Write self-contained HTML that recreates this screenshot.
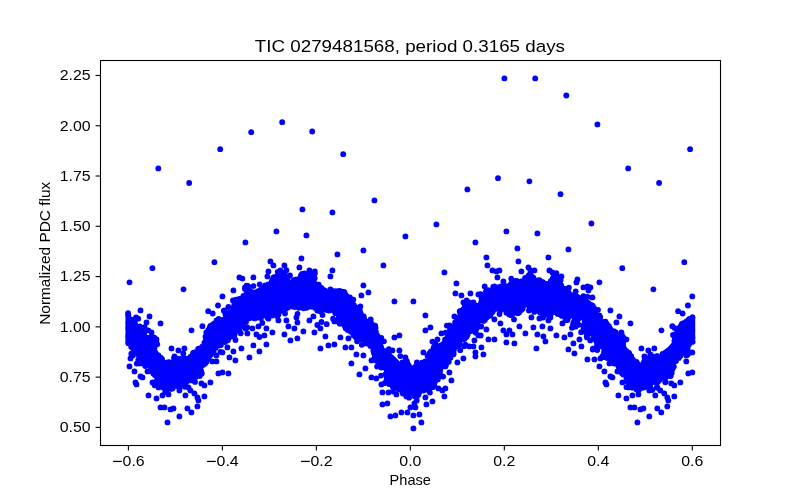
<!DOCTYPE html><html><head><meta charset="utf-8"><style>html,body{margin:0;padding:0;background:#fff;}svg{display:block;}text{font-family:"Liberation Sans",sans-serif;fill:#000;}.t{filter:grayscale(1);}</style></head><body>
<svg width="800" height="500" viewBox="0 0 800 500">
<rect x="0" y="0" width="800" height="500" fill="#fff"/>
<g fill="#0000ff">
<path d="M125.5,313.7 L133.7,319.4 L139.7,325.4 L145.4,331.1 L148.6,338.8 L150.1,336.4 L154.3,344.8 L154.4,346.0 L158.9,352.6 L160.4,355.0 L163.3,359.9 L164.6,361.9 L171.5,362.5 L177.2,359.6 L176.6,357.9 L180.3,361.0 L184.0,356.7 L190.9,354.8 L194.3,351.5 L198.4,348.5 L203.3,342.9 L206.3,332.3 L210.6,325.2 L216.1,319.7 L223.6,316.6 L231.6,308.7 L237.6,298.2 L243.7,293.6 L245.2,286.1 L247.5,285.4 L253.8,290.0 L260.8,286.8 L268.7,283.6 L273.3,277.5 L278.9,274.8 L283.2,271.8 L289.0,280.2 L296.2,279.0 L303.0,278.7 L307.5,272.7 L311.3,272.6 L315.3,279.6 L320.2,286.0 L327.1,289.5 L334.8,289.5 L340.5,290.9 L344.1,291.9 L348.3,299.1 L351.7,304.0 L357.7,307.0 L361.8,312.6 L366.7,320.5 L372.9,322.2 L375.2,325.8 L376.6,331.5 L378.1,337.7 L382.9,349.2 L388.0,351.2 L393.7,355.5 L400.0,361.7 L407.9,363.4 L414.3,366.5 L423.2,364.6 L426.8,357.9 L432.5,346.3 L441.2,342.1 L447.7,334.0 L449.2,328.1 L456.7,320.6 L459.8,311.5 L465.3,304.5 L470.2,302.0 L477.7,303.1 L485.5,290.8 L492.4,286.8 L499.2,284.0 L505.2,285.5 L511.9,282.3 L517.7,279.4 L523.8,277.8 L530.3,273.5 L537.0,279.3 L547.4,282.5 L553.6,276.4 L560.7,277.5 L563.3,286.1 L570.0,291.2 L579.1,295.8 L581.3,297.1 L588.8,303.1 L593.0,305.8 L597.4,313.2 L603.6,319.4 L609.6,325.4 L615.3,331.1 L618.5,338.8 L620.0,336.4 L624.2,344.8 L624.3,346.0 L628.8,352.6 L630.3,355.0 L633.2,359.9 L634.5,361.9 L641.4,362.5 L647.1,359.6 L646.5,357.9 L650.2,361.0 L653.9,356.7 L660.8,354.8 L664.2,351.5 L668.3,348.5 L673.2,342.9 L676.2,332.3 L680.5,325.2 L686.0,319.7 L695.2,317.9 L695.2,343.7 L690.9,345.2 L688.5,347.6 L684.4,351.7 L679.2,358.9 L676.2,363.9 L672.1,370.2 L671.5,375.6 L664.0,378.2 L656.9,383.3 L649.2,387.1 L646.4,387.1 L640.5,390.1 L635.7,390.1 L630.3,386.0 L626.1,381.8 L623.2,376.0 L618.4,368.1 L610.8,363.5 L606.7,358.0 L602.3,348.6 L596.3,343.4 L596.9,351.2 L593.2,341.0 L591.9,342.0 L591.6,334.8 L584.2,331.9 L581.4,319.6 L576.8,326.9 L573.6,325.8 L572.2,317.9 L566.3,320.5 L562.8,316.2 L553.1,314.5 L544.5,315.1 L535.9,310.2 L527.1,306.5 L519.0,313.3 L511.2,316.0 L504.3,311.6 L500.0,311.5 L495.1,311.7 L489.6,316.6 L483.8,322.4 L481.1,322.6 L477.6,328.6 L468.7,334.5 L465.4,338.8 L462.3,342.4 L459.6,347.6 L456.4,348.3 L454.8,354.0 L451.9,355.8 L450.3,359.9 L444.3,367.4 L441.2,374.1 L438.3,379.5 L434.1,386.6 L428.7,389.2 L420.9,392.3 L415.5,398.1 L410.9,395.2 L404.8,392.2 L397.3,389.2 L391.7,386.4 L386.3,381.1 L384.9,372.3 L380.1,365.8 L374.3,358.7 L372.7,347.9 L365.1,344.3 L351.3,334.0 L345.3,328.0 L339.6,323.8 L336.7,316.5 L332.8,312.7 L325.1,311.1 L319.1,308.1 L312.3,307.5 L303.4,309.5 L296.3,308.5 L289.6,307.5 L277.1,312.2 L271.7,316.0 L265.3,314.1 L259.5,320.6 L250.2,317.7 L240.5,328.7 L234.7,334.5 L225.8,341.9 L222.8,343.4 L218.6,347.6 L214.5,351.7 L209.3,358.9 L206.3,363.9 L202.2,370.2 L201.6,375.6 L194.1,378.2 L187.0,383.3 L179.3,387.1 L176.5,387.1 L170.6,390.1 L165.8,390.1 L160.4,386.0 L156.2,381.8 L153.3,376.0 L148.5,368.1 L140.9,363.5 L136.8,358.0 L132.4,348.6 L130.1,345.1 L125.5,343.3 Z"/>
<circle cx="189.2" cy="183.0" r="2.9"/>
<circle cx="220.2" cy="149.2" r="2.9"/>
<circle cx="251.2" cy="132.2" r="2.9"/>
<circle cx="282.2" cy="122.2" r="2.9"/>
<circle cx="312.2" cy="131.5" r="2.9"/>
<circle cx="343.2" cy="154.2" r="2.9"/>
<circle cx="498.0" cy="178.2" r="2.9"/>
<circle cx="504.4" cy="78.4" r="2.9"/>
<circle cx="535.2" cy="78.4" r="2.9"/>
<circle cx="566.3" cy="95.5" r="2.9"/>
<circle cx="597.4" cy="124.4" r="2.9"/>
<circle cx="628.2" cy="168.4" r="2.9"/>
<circle cx="529.4" cy="181.3" r="2.9"/>
<circle cx="560.5" cy="194.2" r="2.9"/>
<circle cx="245.4" cy="242.4" r="2.9"/>
<circle cx="214.4" cy="262.2" r="2.9"/>
<circle cx="239.4" cy="277.4" r="2.9"/>
<circle cx="242.4" cy="278.6" r="2.9"/>
<circle cx="253.4" cy="277.4" r="2.9"/>
<circle cx="374.4" cy="200.4" r="2.9"/>
<circle cx="302.4" cy="209.4" r="2.9"/>
<circle cx="332.4" cy="212.4" r="2.9"/>
<circle cx="276.4" cy="231.4" r="2.9"/>
<circle cx="306.4" cy="235.4" r="2.9"/>
<circle cx="405.4" cy="236.4" r="2.9"/>
<circle cx="363.4" cy="250.4" r="2.9"/>
<circle cx="337.4" cy="254.4" r="2.9"/>
<circle cx="301.4" cy="258.4" r="2.9"/>
<circle cx="383.4" cy="265.4" r="2.9"/>
<circle cx="270.4" cy="261.4" r="2.9"/>
<circle cx="273.4" cy="265.4" r="2.9"/>
<circle cx="284.4" cy="265.4" r="2.9"/>
<circle cx="299.4" cy="267.4" r="2.9"/>
<circle cx="268.4" cy="271.4" r="2.9"/>
<circle cx="332.4" cy="270.4" r="2.9"/>
<circle cx="330.4" cy="276.4" r="2.9"/>
<circle cx="280.4" cy="270.4" r="2.9"/>
<circle cx="309.4" cy="270.4" r="2.9"/>
<circle cx="304.4" cy="273.4" r="2.9"/>
<circle cx="311.4" cy="273.4" r="2.9"/>
<circle cx="267.4" cy="276.4" r="2.9"/>
<circle cx="467.4" cy="189.4" r="2.9"/>
<circle cx="436.4" cy="224.4" r="2.9"/>
<circle cx="506.4" cy="231.4" r="2.9"/>
<circle cx="537.4" cy="233.4" r="2.9"/>
<circle cx="475.4" cy="242.4" r="2.9"/>
<circle cx="517.4" cy="248.4" r="2.9"/>
<circle cx="568.4" cy="249.4" r="2.9"/>
<circle cx="486.4" cy="257.4" r="2.9"/>
<circle cx="548.4" cy="257.4" r="2.9"/>
<circle cx="518.4" cy="261.4" r="2.9"/>
<circle cx="487.4" cy="265.4" r="2.9"/>
<circle cx="444.4" cy="272.4" r="2.9"/>
<circle cx="492.4" cy="270.4" r="2.9"/>
<circle cx="499.4" cy="270.4" r="2.9"/>
<circle cx="496.4" cy="271.4" r="2.9"/>
<circle cx="497.4" cy="277.4" r="2.9"/>
<circle cx="528.4" cy="267.4" r="2.9"/>
<circle cx="534.4" cy="270.4" r="2.9"/>
<circle cx="521.4" cy="271.4" r="2.9"/>
<circle cx="549.4" cy="270.4" r="2.9"/>
<circle cx="552.4" cy="272.4" r="2.9"/>
<circle cx="556.4" cy="275.4" r="2.9"/>
<circle cx="561.4" cy="276.4" r="2.9"/>
<circle cx="530.4" cy="270.4" r="2.9"/>
<circle cx="591.4" cy="223.5" r="2.9"/>
<circle cx="183.5" cy="289.3" r="2.9"/>
<circle cx="191.5" cy="330.3" r="2.9"/>
<circle cx="202.4" cy="326.2" r="2.9"/>
<circle cx="208.2" cy="311.2" r="2.9"/>
<circle cx="218.0" cy="305.5" r="2.9"/>
<circle cx="212.7" cy="313.5" r="2.9"/>
<circle cx="222.4" cy="296.4" r="2.9"/>
<circle cx="224.4" cy="310.4" r="2.9"/>
<circle cx="233.4" cy="290.4" r="2.9"/>
<circle cx="236.0" cy="299.6" r="2.9"/>
<circle cx="247.4" cy="327.4" r="2.9"/>
<circle cx="252.4" cy="328.4" r="2.9"/>
<circle cx="258.4" cy="326.4" r="2.9"/>
<circle cx="266.4" cy="328.4" r="2.9"/>
<circle cx="247.4" cy="333.4" r="2.9"/>
<circle cx="256.4" cy="334.4" r="2.9"/>
<circle cx="264.4" cy="335.4" r="2.9"/>
<circle cx="272.4" cy="332.4" r="2.9"/>
<circle cx="278.4" cy="314.4" r="2.9"/>
<circle cx="278.4" cy="320.4" r="2.9"/>
<circle cx="286.4" cy="320.4" r="2.9"/>
<circle cx="288.4" cy="326.4" r="2.9"/>
<circle cx="294.4" cy="328.4" r="2.9"/>
<circle cx="297.4" cy="322.4" r="2.9"/>
<circle cx="296.4" cy="317.4" r="2.9"/>
<circle cx="284.4" cy="334.4" r="2.9"/>
<circle cx="290.4" cy="340.4" r="2.9"/>
<circle cx="297.4" cy="338.4" r="2.9"/>
<circle cx="303.4" cy="331.4" r="2.9"/>
<circle cx="309.4" cy="320.4" r="2.9"/>
<circle cx="313.4" cy="316.4" r="2.9"/>
<circle cx="314.4" cy="332.4" r="2.9"/>
<circle cx="320.4" cy="328.4" r="2.9"/>
<circle cx="325.4" cy="336.4" r="2.9"/>
<circle cx="320.4" cy="348.4" r="2.9"/>
<circle cx="328.4" cy="345.4" r="2.9"/>
<circle cx="253.4" cy="345.4" r="2.9"/>
<circle cx="259.4" cy="351.4" r="2.9"/>
<circle cx="266.4" cy="344.4" r="2.9"/>
<circle cx="249.4" cy="357.4" r="2.9"/>
<circle cx="241.4" cy="348.4" r="2.9"/>
<circle cx="233.4" cy="351.4" r="2.9"/>
<circle cx="227.4" cy="347.4" r="2.9"/>
<circle cx="235.4" cy="360.4" r="2.9"/>
<circle cx="229.4" cy="357.4" r="2.9"/>
<circle cx="216.4" cy="361.4" r="2.9"/>
<circle cx="216.4" cy="355.4" r="2.9"/>
<circle cx="222.4" cy="352.4" r="2.9"/>
<circle cx="178.4" cy="350.4" r="2.9"/>
<circle cx="184.4" cy="348.4" r="2.9"/>
<circle cx="456.4" cy="283.4" r="2.9"/>
<circle cx="363.4" cy="285.4" r="2.9"/>
<circle cx="368.4" cy="292.4" r="2.9"/>
<circle cx="361.4" cy="295.4" r="2.9"/>
<circle cx="394.4" cy="301.4" r="2.9"/>
<circle cx="413.4" cy="301.4" r="2.9"/>
<circle cx="455.4" cy="293.4" r="2.9"/>
<circle cx="461.4" cy="295.4" r="2.9"/>
<circle cx="470.4" cy="293.4" r="2.9"/>
<circle cx="478.4" cy="294.4" r="2.9"/>
<circle cx="360.4" cy="306.4" r="2.9"/>
<circle cx="425.4" cy="315.4" r="2.9"/>
<circle cx="425.4" cy="330.4" r="2.9"/>
<circle cx="430.4" cy="327.4" r="2.9"/>
<circle cx="441.4" cy="333.4" r="2.9"/>
<circle cx="454.4" cy="316.4" r="2.9"/>
<circle cx="449.4" cy="325.4" r="2.9"/>
<circle cx="394.4" cy="337.4" r="2.9"/>
<circle cx="399.4" cy="335.4" r="2.9"/>
<circle cx="340.4" cy="337.4" r="2.9"/>
<circle cx="334.4" cy="344.4" r="2.9"/>
<circle cx="345.4" cy="347.4" r="2.9"/>
<circle cx="351.4" cy="347.4" r="2.9"/>
<circle cx="348.4" cy="338.4" r="2.9"/>
<circle cx="356.4" cy="354.4" r="2.9"/>
<circle cx="363.4" cy="355.4" r="2.9"/>
<circle cx="351.4" cy="363.4" r="2.9"/>
<circle cx="365.4" cy="368.4" r="2.9"/>
<circle cx="392.4" cy="350.4" r="2.9"/>
<circle cx="399.4" cy="350.4" r="2.9"/>
<circle cx="405.4" cy="357.4" r="2.9"/>
<circle cx="423.4" cy="352.4" r="2.9"/>
<circle cx="435.4" cy="343.4" r="2.9"/>
<circle cx="457.4" cy="362.4" r="2.9"/>
<circle cx="463.4" cy="358.4" r="2.9"/>
<circle cx="469.4" cy="346.4" r="2.9"/>
<circle cx="473.4" cy="346.4" r="2.9"/>
<circle cx="475.4" cy="352.4" r="2.9"/>
<circle cx="475.4" cy="356.4" r="2.9"/>
<circle cx="481.4" cy="347.4" r="2.9"/>
<circle cx="483.4" cy="354.4" r="2.9"/>
<circle cx="474.4" cy="340.4" r="2.9"/>
<circle cx="478.4" cy="335.4" r="2.9"/>
<circle cx="488.4" cy="339.4" r="2.9"/>
<circle cx="486.4" cy="329.4" r="2.9"/>
<circle cx="334.4" cy="321.4" r="2.9"/>
<circle cx="463.4" cy="302.4" r="2.9"/>
<circle cx="468.4" cy="302.4" r="2.9"/>
<circle cx="473.4" cy="302.4" r="2.9"/>
<circle cx="577.4" cy="279.4" r="2.9"/>
<circle cx="576.4" cy="282.4" r="2.9"/>
<circle cx="583.4" cy="287.4" r="2.9"/>
<circle cx="587.4" cy="286.4" r="2.9"/>
<circle cx="590.4" cy="287.4" r="2.9"/>
<circle cx="588.4" cy="290.4" r="2.9"/>
<circle cx="592.4" cy="297.4" r="2.9"/>
<circle cx="610.4" cy="310.4" r="2.9"/>
<circle cx="619.4" cy="316.4" r="2.9"/>
<circle cx="616.4" cy="322.4" r="2.9"/>
<circle cx="630.4" cy="323.4" r="2.9"/>
<circle cx="621.4" cy="332.4" r="2.9"/>
<circle cx="626.4" cy="339.4" r="2.9"/>
<circle cx="641.4" cy="348.4" r="2.9"/>
<circle cx="644.4" cy="356.4" r="2.9"/>
<circle cx="503.4" cy="281.4" r="2.9"/>
<circle cx="494.4" cy="319.4" r="2.9"/>
<circle cx="500.4" cy="323.4" r="2.9"/>
<circle cx="503.4" cy="330.4" r="2.9"/>
<circle cx="509.4" cy="330.4" r="2.9"/>
<circle cx="506.4" cy="334.4" r="2.9"/>
<circle cx="512.4" cy="334.4" r="2.9"/>
<circle cx="494.4" cy="339.4" r="2.9"/>
<circle cx="506.4" cy="342.4" r="2.9"/>
<circle cx="514.4" cy="343.4" r="2.9"/>
<circle cx="519.4" cy="326.4" r="2.9"/>
<circle cx="525.4" cy="333.4" r="2.9"/>
<circle cx="531.4" cy="317.4" r="2.9"/>
<circle cx="533.4" cy="327.4" r="2.9"/>
<circle cx="537.4" cy="334.4" r="2.9"/>
<circle cx="542.4" cy="326.4" r="2.9"/>
<circle cx="543.4" cy="336.4" r="2.9"/>
<circle cx="545.4" cy="341.4" r="2.9"/>
<circle cx="536.4" cy="348.4" r="2.9"/>
<circle cx="550.4" cy="328.4" r="2.9"/>
<circle cx="556.4" cy="335.4" r="2.9"/>
<circle cx="564.4" cy="337.4" r="2.9"/>
<circle cx="570.4" cy="334.4" r="2.9"/>
<circle cx="579.4" cy="339.4" r="2.9"/>
<circle cx="573.4" cy="343.4" r="2.9"/>
<circle cx="581.4" cy="346.4" r="2.9"/>
<circle cx="568.4" cy="349.4" r="2.9"/>
<circle cx="574.4" cy="353.4" r="2.9"/>
<circle cx="587.4" cy="359.4" r="2.9"/>
<circle cx="594.4" cy="359.4" r="2.9"/>
<circle cx="599.4" cy="366.4" r="2.9"/>
<circle cx="562.4" cy="323.4" r="2.9"/>
<circle cx="550.4" cy="317.4" r="2.9"/>
<circle cx="548.4" cy="320.4" r="2.9"/>
<circle cx="539.4" cy="318.4" r="2.9"/>
<circle cx="597.4" cy="339.4" r="2.9"/>
<circle cx="593.4" cy="338.4" r="2.9"/>
<circle cx="218.4" cy="373.4" r="2.9"/>
<circle cx="222.4" cy="372.4" r="2.9"/>
<circle cx="228.4" cy="373.4" r="2.9"/>
<circle cx="210.4" cy="382.4" r="2.9"/>
<circle cx="204.4" cy="385.4" r="2.9"/>
<circle cx="201.4" cy="383.4" r="2.9"/>
<circle cx="190.4" cy="390.4" r="2.9"/>
<circle cx="194.4" cy="393.4" r="2.9"/>
<circle cx="197.4" cy="397.4" r="2.9"/>
<circle cx="198.4" cy="400.4" r="2.9"/>
<circle cx="204.4" cy="396.4" r="2.9"/>
<circle cx="185.4" cy="395.4" r="2.9"/>
<circle cx="179.4" cy="390.4" r="2.9"/>
<circle cx="197.4" cy="406.4" r="2.9"/>
<circle cx="187.4" cy="408.4" r="2.9"/>
<circle cx="191.4" cy="412.4" r="2.9"/>
<circle cx="179.4" cy="416.4" r="2.9"/>
<circle cx="359.4" cy="374.4" r="2.9"/>
<circle cx="371.4" cy="377.4" r="2.9"/>
<circle cx="376.4" cy="378.4" r="2.9"/>
<circle cx="381.4" cy="384.4" r="2.9"/>
<circle cx="382.4" cy="392.4" r="2.9"/>
<circle cx="388.4" cy="392.4" r="2.9"/>
<circle cx="396.4" cy="394.4" r="2.9"/>
<circle cx="406.4" cy="396.4" r="2.9"/>
<circle cx="382.4" cy="404.4" r="2.9"/>
<circle cx="387.4" cy="403.4" r="2.9"/>
<circle cx="390.4" cy="416.4" r="2.9"/>
<circle cx="395.4" cy="415.4" r="2.9"/>
<circle cx="401.4" cy="412.4" r="2.9"/>
<circle cx="407.4" cy="412.4" r="2.9"/>
<circle cx="413.4" cy="415.4" r="2.9"/>
<circle cx="419.4" cy="414.4" r="2.9"/>
<circle cx="421.4" cy="422.4" r="2.9"/>
<circle cx="413.4" cy="428.4" r="2.9"/>
<circle cx="410.4" cy="407.4" r="2.9"/>
<circle cx="415.4" cy="407.4" r="2.9"/>
<circle cx="414.4" cy="403.4" r="2.9"/>
<circle cx="426.4" cy="404.4" r="2.9"/>
<circle cx="432.4" cy="401.4" r="2.9"/>
<circle cx="444.4" cy="396.4" r="2.9"/>
<circle cx="438.4" cy="388.4" r="2.9"/>
<circle cx="445.4" cy="388.4" r="2.9"/>
<circle cx="442.4" cy="390.4" r="2.9"/>
<circle cx="451.4" cy="380.4" r="2.9"/>
<circle cx="449.4" cy="372.4" r="2.9"/>
<circle cx="425.4" cy="397.4" r="2.9"/>
<circle cx="604.4" cy="371.4" r="2.9"/>
<circle cx="610.4" cy="376.4" r="2.9"/>
<circle cx="612.4" cy="377.4" r="2.9"/>
<circle cx="605.4" cy="382.4" r="2.9"/>
<circle cx="606.4" cy="384.4" r="2.9"/>
<circle cx="617.4" cy="371.4" r="2.9"/>
<circle cx="609.4" cy="363.4" r="2.9"/>
<circle cx="600.4" cy="358.4" r="2.9"/>
<circle cx="618.4" cy="395.4" r="2.9"/>
<circle cx="626.4" cy="398.4" r="2.9"/>
<circle cx="632.4" cy="395.4" r="2.9"/>
<circle cx="638.4" cy="394.4" r="2.9"/>
<circle cx="630.4" cy="407.4" r="2.9"/>
<circle cx="634.4" cy="407.4" r="2.9"/>
<circle cx="640.4" cy="409.4" r="2.9"/>
<circle cx="643.4" cy="408.4" r="2.9"/>
<circle cx="637.4" cy="422.4" r="2.9"/>
<circle cx="622.4" cy="382.4" r="2.9"/>
<circle cx="628.4" cy="387.4" r="2.9"/>
<circle cx="235.5" cy="340.0" r="2.9"/>
<circle cx="259.5" cy="337.0" r="2.9"/>
<circle cx="317.3" cy="325.0" r="2.9"/>
<circle cx="321.5" cy="322.0" r="2.9"/>
<circle cx="326.7" cy="324.2" r="2.9"/>
<circle cx="480.7" cy="335.5" r="2.9"/>
<circle cx="599.4" cy="282.3" r="2.9"/>
<circle cx="622.3" cy="268.2" r="2.9"/>
<circle cx="297.5" cy="313.8" r="2.9"/>
<circle cx="320.0" cy="311.3" r="2.9"/>
<circle cx="322.5" cy="315.0" r="2.9"/>
<circle cx="659.1" cy="183.0" r="2.9"/>
<circle cx="690.1" cy="149.2" r="2.9"/>
<circle cx="158.3" cy="168.4" r="2.9"/>
<circle cx="684.3" cy="262.2" r="2.9"/>
<circle cx="653.4" cy="289.3" r="2.9"/>
<circle cx="661.4" cy="330.3" r="2.9"/>
<circle cx="672.3" cy="326.2" r="2.9"/>
<circle cx="678.1" cy="311.2" r="2.9"/>
<circle cx="687.9" cy="305.5" r="2.9"/>
<circle cx="682.6" cy="313.5" r="2.9"/>
<circle cx="692.3" cy="296.4" r="2.9"/>
<circle cx="686.3" cy="361.4" r="2.9"/>
<circle cx="686.3" cy="355.4" r="2.9"/>
<circle cx="692.3" cy="352.4" r="2.9"/>
<circle cx="648.3" cy="350.4" r="2.9"/>
<circle cx="654.3" cy="348.4" r="2.9"/>
<circle cx="140.5" cy="310.4" r="2.9"/>
<circle cx="149.5" cy="316.4" r="2.9"/>
<circle cx="146.5" cy="322.4" r="2.9"/>
<circle cx="160.5" cy="323.4" r="2.9"/>
<circle cx="151.5" cy="332.4" r="2.9"/>
<circle cx="156.5" cy="339.4" r="2.9"/>
<circle cx="171.5" cy="348.4" r="2.9"/>
<circle cx="174.5" cy="356.4" r="2.9"/>
<circle cx="129.5" cy="366.4" r="2.9"/>
<circle cx="688.3" cy="373.4" r="2.9"/>
<circle cx="692.3" cy="372.4" r="2.9"/>
<circle cx="680.3" cy="382.4" r="2.9"/>
<circle cx="674.3" cy="385.4" r="2.9"/>
<circle cx="671.3" cy="383.4" r="2.9"/>
<circle cx="660.3" cy="390.4" r="2.9"/>
<circle cx="664.3" cy="393.4" r="2.9"/>
<circle cx="667.3" cy="397.4" r="2.9"/>
<circle cx="668.3" cy="400.4" r="2.9"/>
<circle cx="674.3" cy="396.4" r="2.9"/>
<circle cx="655.3" cy="395.4" r="2.9"/>
<circle cx="649.3" cy="390.4" r="2.9"/>
<circle cx="667.3" cy="406.4" r="2.9"/>
<circle cx="657.3" cy="408.4" r="2.9"/>
<circle cx="661.3" cy="412.4" r="2.9"/>
<circle cx="649.3" cy="416.4" r="2.9"/>
<circle cx="134.5" cy="371.4" r="2.9"/>
<circle cx="140.5" cy="376.4" r="2.9"/>
<circle cx="142.5" cy="377.4" r="2.9"/>
<circle cx="135.5" cy="382.4" r="2.9"/>
<circle cx="136.5" cy="384.4" r="2.9"/>
<circle cx="147.5" cy="371.4" r="2.9"/>
<circle cx="139.5" cy="363.4" r="2.9"/>
<circle cx="130.5" cy="358.4" r="2.9"/>
<circle cx="148.5" cy="395.4" r="2.9"/>
<circle cx="156.5" cy="398.4" r="2.9"/>
<circle cx="162.5" cy="395.4" r="2.9"/>
<circle cx="168.5" cy="394.4" r="2.9"/>
<circle cx="160.5" cy="407.4" r="2.9"/>
<circle cx="164.5" cy="407.4" r="2.9"/>
<circle cx="170.5" cy="409.4" r="2.9"/>
<circle cx="173.5" cy="408.4" r="2.9"/>
<circle cx="167.5" cy="422.4" r="2.9"/>
<circle cx="152.5" cy="382.4" r="2.9"/>
<circle cx="158.5" cy="387.4" r="2.9"/>
<circle cx="129.5" cy="282.3" r="2.9"/>
<circle cx="152.4" cy="268.2" r="2.9"/>
<circle cx="131.6" cy="319.7" r="2.9"/>
<circle cx="134.7" cy="322.0" r="2.9"/>
<circle cx="134.5" cy="322.6" r="2.9"/>
<circle cx="139.7" cy="326.5" r="2.9"/>
<circle cx="141.6" cy="327.7" r="2.9"/>
<circle cx="144.2" cy="330.9" r="2.9"/>
<circle cx="144.6" cy="331.9" r="2.9"/>
<circle cx="145.7" cy="337.2" r="2.9"/>
<circle cx="153.6" cy="337.5" r="2.9"/>
<circle cx="154.3" cy="337.7" r="2.9"/>
<circle cx="149.9" cy="337.7" r="2.9"/>
<circle cx="149.4" cy="338.4" r="2.9"/>
<circle cx="151.8" cy="339.6" r="2.9"/>
<circle cx="150.9" cy="342.4" r="2.9"/>
<circle cx="152.5" cy="343.8" r="2.9"/>
<circle cx="153.4" cy="344.5" r="2.9"/>
<circle cx="152.4" cy="344.5" r="2.9"/>
<circle cx="153.5" cy="347.9" r="2.9"/>
<circle cx="154.5" cy="347.9" r="2.9"/>
<circle cx="158.4" cy="355.5" r="2.9"/>
<circle cx="160.7" cy="357.6" r="2.9"/>
<circle cx="161.2" cy="358.7" r="2.9"/>
<circle cx="162.0" cy="359.3" r="2.9"/>
<circle cx="161.7" cy="359.4" r="2.9"/>
<circle cx="161.8" cy="359.5" r="2.9"/>
<circle cx="166.1" cy="363.2" r="2.9"/>
<circle cx="166.9" cy="362.6" r="2.9"/>
<circle cx="168.0" cy="362.7" r="2.9"/>
<circle cx="169.0" cy="362.2" r="2.9"/>
<circle cx="172.9" cy="363.6" r="2.9"/>
<circle cx="173.3" cy="362.5" r="2.9"/>
<circle cx="175.0" cy="361.4" r="2.9"/>
<circle cx="179.3" cy="358.7" r="2.9"/>
<circle cx="175.6" cy="358.7" r="2.9"/>
<circle cx="176.1" cy="360.2" r="2.9"/>
<circle cx="176.4" cy="360.5" r="2.9"/>
<circle cx="182.5" cy="359.7" r="2.9"/>
<circle cx="183.8" cy="358.4" r="2.9"/>
<circle cx="184.9" cy="358.5" r="2.9"/>
<circle cx="190.8" cy="356.6" r="2.9"/>
<circle cx="193.0" cy="353.2" r="2.9"/>
<circle cx="193.9" cy="352.6" r="2.9"/>
<circle cx="195.6" cy="352.2" r="2.9"/>
<circle cx="198.1" cy="348.9" r="2.9"/>
<circle cx="199.6" cy="348.5" r="2.9"/>
<circle cx="202.5" cy="346.4" r="2.9"/>
<circle cx="204.4" cy="342.6" r="2.9"/>
<circle cx="205.9" cy="340.4" r="2.9"/>
<circle cx="206.6" cy="337.6" r="2.9"/>
<circle cx="205.5" cy="336.7" r="2.9"/>
<circle cx="206.3" cy="332.5" r="2.9"/>
<circle cx="208.4" cy="332.6" r="2.9"/>
<circle cx="208.4" cy="329.9" r="2.9"/>
<circle cx="209.4" cy="329.5" r="2.9"/>
<circle cx="209.8" cy="327.6" r="2.9"/>
<circle cx="211.2" cy="326.9" r="2.9"/>
<circle cx="210.4" cy="325.9" r="2.9"/>
<circle cx="211.9" cy="326.1" r="2.9"/>
<circle cx="212.4" cy="325.0" r="2.9"/>
<circle cx="213.7" cy="324.0" r="2.9"/>
<circle cx="216.4" cy="321.3" r="2.9"/>
<circle cx="216.6" cy="320.3" r="2.9"/>
<circle cx="218.7" cy="320.3" r="2.9"/>
<circle cx="218.7" cy="318.8" r="2.9"/>
<circle cx="225.5" cy="314.5" r="2.9"/>
<circle cx="226.4" cy="313.8" r="2.9"/>
<circle cx="227.9" cy="314.8" r="2.9"/>
<circle cx="228.5" cy="314.2" r="2.9"/>
<circle cx="229.5" cy="312.7" r="2.9"/>
<circle cx="232.9" cy="308.3" r="2.9"/>
<circle cx="234.6" cy="307.2" r="2.9"/>
<circle cx="234.2" cy="306.3" r="2.9"/>
<circle cx="234.4" cy="304.5" r="2.9"/>
<circle cx="236.2" cy="302.1" r="2.9"/>
<circle cx="236.1" cy="300.9" r="2.9"/>
<circle cx="239.3" cy="298.8" r="2.9"/>
<circle cx="243.4" cy="295.8" r="2.9"/>
<circle cx="245.0" cy="288.9" r="2.9"/>
<circle cx="246.4" cy="287.3" r="2.9"/>
<circle cx="245.0" cy="287.4" r="2.9"/>
<circle cx="247.0" cy="285.8" r="2.9"/>
<circle cx="246.6" cy="285.7" r="2.9"/>
<circle cx="248.1" cy="286.2" r="2.9"/>
<circle cx="262.3" cy="287.7" r="2.9"/>
<circle cx="265.2" cy="285.5" r="2.9"/>
<circle cx="267.0" cy="286.2" r="2.9"/>
<circle cx="268.3" cy="284.4" r="2.9"/>
<circle cx="271.6" cy="282.6" r="2.9"/>
<circle cx="271.8" cy="281.3" r="2.9"/>
<circle cx="272.7" cy="279.7" r="2.9"/>
<circle cx="274.9" cy="278.7" r="2.9"/>
<circle cx="273.4" cy="277.6" r="2.9"/>
<circle cx="274.3" cy="277.1" r="2.9"/>
<circle cx="277.4" cy="276.2" r="2.9"/>
<circle cx="280.0" cy="275.6" r="2.9"/>
<circle cx="282.1" cy="275.3" r="2.9"/>
<circle cx="283.9" cy="272.9" r="2.9"/>
<circle cx="282.8" cy="273.9" r="2.9"/>
<circle cx="283.5" cy="274.9" r="2.9"/>
<circle cx="285.0" cy="275.0" r="2.9"/>
<circle cx="284.6" cy="276.2" r="2.9"/>
<circle cx="287.4" cy="278.2" r="2.9"/>
<circle cx="293.4" cy="280.4" r="2.9"/>
<circle cx="295.3" cy="279.6" r="2.9"/>
<circle cx="296.3" cy="279.7" r="2.9"/>
<circle cx="299.3" cy="279.0" r="2.9"/>
<circle cx="299.5" cy="279.0" r="2.9"/>
<circle cx="304.3" cy="278.5" r="2.9"/>
<circle cx="306.8" cy="274.3" r="2.9"/>
<circle cx="306.7" cy="274.5" r="2.9"/>
<circle cx="308.0" cy="274.8" r="2.9"/>
<circle cx="309.5" cy="274.1" r="2.9"/>
<circle cx="310.5" cy="273.2" r="2.9"/>
<circle cx="311.6" cy="275.8" r="2.9"/>
<circle cx="314.7" cy="278.2" r="2.9"/>
<circle cx="317.7" cy="284.7" r="2.9"/>
<circle cx="318.7" cy="284.7" r="2.9"/>
<circle cx="318.2" cy="286.5" r="2.9"/>
<circle cx="320.8" cy="287.8" r="2.9"/>
<circle cx="321.7" cy="288.1" r="2.9"/>
<circle cx="324.8" cy="290.4" r="2.9"/>
<circle cx="330.4" cy="289.5" r="2.9"/>
<circle cx="331.4" cy="290.4" r="2.9"/>
<circle cx="335.4" cy="291.2" r="2.9"/>
<circle cx="337.5" cy="291.6" r="2.9"/>
<circle cx="338.0" cy="291.3" r="2.9"/>
<circle cx="339.6" cy="291.0" r="2.9"/>
<circle cx="341.6" cy="291.6" r="2.9"/>
<circle cx="342.1" cy="292.2" r="2.9"/>
<circle cx="343.1" cy="291.8" r="2.9"/>
<circle cx="344.4" cy="292.2" r="2.9"/>
<circle cx="343.4" cy="292.3" r="2.9"/>
<circle cx="344.4" cy="293.9" r="2.9"/>
<circle cx="345.5" cy="295.0" r="2.9"/>
<circle cx="345.9" cy="295.3" r="2.9"/>
<circle cx="346.9" cy="296.6" r="2.9"/>
<circle cx="347.5" cy="299.3" r="2.9"/>
<circle cx="348.6" cy="300.3" r="2.9"/>
<circle cx="349.3" cy="302.9" r="2.9"/>
<circle cx="353.0" cy="304.7" r="2.9"/>
<circle cx="353.9" cy="305.1" r="2.9"/>
<circle cx="356.8" cy="307.6" r="2.9"/>
<circle cx="357.8" cy="309.1" r="2.9"/>
<circle cx="358.5" cy="310.9" r="2.9"/>
<circle cx="360.0" cy="311.1" r="2.9"/>
<circle cx="360.9" cy="313.9" r="2.9"/>
<circle cx="363.7" cy="316.4" r="2.9"/>
<circle cx="364.2" cy="319.2" r="2.9"/>
<circle cx="368.8" cy="321.4" r="2.9"/>
<circle cx="370.1" cy="323.1" r="2.9"/>
<circle cx="371.6" cy="323.7" r="2.9"/>
<circle cx="375.1" cy="325.6" r="2.9"/>
<circle cx="375.2" cy="326.3" r="2.9"/>
<circle cx="374.3" cy="327.6" r="2.9"/>
<circle cx="375.6" cy="328.1" r="2.9"/>
<circle cx="374.5" cy="331.3" r="2.9"/>
<circle cx="376.0" cy="332.1" r="2.9"/>
<circle cx="377.7" cy="335.9" r="2.9"/>
<circle cx="376.4" cy="338.5" r="2.9"/>
<circle cx="378.9" cy="339.5" r="2.9"/>
<circle cx="378.5" cy="341.7" r="2.9"/>
<circle cx="380.3" cy="345.0" r="2.9"/>
<circle cx="380.4" cy="346.3" r="2.9"/>
<circle cx="381.3" cy="347.7" r="2.9"/>
<circle cx="383.9" cy="350.8" r="2.9"/>
<circle cx="384.8" cy="351.7" r="2.9"/>
<circle cx="386.9" cy="352.9" r="2.9"/>
<circle cx="388.9" cy="351.9" r="2.9"/>
<circle cx="388.3" cy="353.8" r="2.9"/>
<circle cx="402.4" cy="362.5" r="2.9"/>
<circle cx="403.1" cy="362.9" r="2.9"/>
<circle cx="405.9" cy="363.4" r="2.9"/>
<circle cx="407.6" cy="364.8" r="2.9"/>
<circle cx="407.5" cy="363.7" r="2.9"/>
<circle cx="408.8" cy="365.5" r="2.9"/>
<circle cx="415.1" cy="366.9" r="2.9"/>
<circle cx="419.5" cy="366.0" r="2.9"/>
<circle cx="425.3" cy="364.4" r="2.9"/>
<circle cx="425.1" cy="363.4" r="2.9"/>
<circle cx="425.3" cy="361.4" r="2.9"/>
<circle cx="427.6" cy="355.9" r="2.9"/>
<circle cx="429.4" cy="354.9" r="2.9"/>
<circle cx="429.4" cy="353.5" r="2.9"/>
<circle cx="430.9" cy="351.3" r="2.9"/>
<circle cx="433.7" cy="347.3" r="2.9"/>
<circle cx="435.2" cy="344.9" r="2.9"/>
<circle cx="445.1" cy="339.4" r="2.9"/>
<circle cx="447.9" cy="336.4" r="2.9"/>
<circle cx="449.1" cy="332.6" r="2.9"/>
<circle cx="450.0" cy="328.7" r="2.9"/>
<circle cx="452.0" cy="327.8" r="2.9"/>
<circle cx="451.9" cy="326.3" r="2.9"/>
<circle cx="455.1" cy="322.5" r="2.9"/>
<circle cx="456.0" cy="322.1" r="2.9"/>
<circle cx="457.7" cy="322.3" r="2.9"/>
<circle cx="457.4" cy="319.9" r="2.9"/>
<circle cx="459.1" cy="319.6" r="2.9"/>
<circle cx="457.8" cy="318.2" r="2.9"/>
<circle cx="459.3" cy="317.4" r="2.9"/>
<circle cx="460.9" cy="314.2" r="2.9"/>
<circle cx="460.2" cy="313.0" r="2.9"/>
<circle cx="459.7" cy="311.5" r="2.9"/>
<circle cx="460.2" cy="311.1" r="2.9"/>
<circle cx="462.4" cy="310.3" r="2.9"/>
<circle cx="463.1" cy="309.6" r="2.9"/>
<circle cx="463.9" cy="308.9" r="2.9"/>
<circle cx="465.1" cy="306.4" r="2.9"/>
<circle cx="464.9" cy="306.1" r="2.9"/>
<circle cx="465.1" cy="304.8" r="2.9"/>
<circle cx="466.9" cy="305.8" r="2.9"/>
<circle cx="467.6" cy="305.5" r="2.9"/>
<circle cx="470.3" cy="304.2" r="2.9"/>
<circle cx="470.4" cy="302.7" r="2.9"/>
<circle cx="481.6" cy="300.7" r="2.9"/>
<circle cx="482.6" cy="298.7" r="2.9"/>
<circle cx="481.5" cy="297.7" r="2.9"/>
<circle cx="482.8" cy="296.5" r="2.9"/>
<circle cx="484.2" cy="296.3" r="2.9"/>
<circle cx="485.9" cy="291.6" r="2.9"/>
<circle cx="486.6" cy="290.9" r="2.9"/>
<circle cx="488.1" cy="290.1" r="2.9"/>
<circle cx="493.2" cy="286.9" r="2.9"/>
<circle cx="494.0" cy="287.7" r="2.9"/>
<circle cx="494.6" cy="286.4" r="2.9"/>
<circle cx="501.0" cy="286.3" r="2.9"/>
<circle cx="503.4" cy="285.8" r="2.9"/>
<circle cx="506.5" cy="286.1" r="2.9"/>
<circle cx="510.8" cy="283.8" r="2.9"/>
<circle cx="511.9" cy="283.7" r="2.9"/>
<circle cx="514.1" cy="281.9" r="2.9"/>
<circle cx="515.6" cy="281.0" r="2.9"/>
<circle cx="516.6" cy="281.0" r="2.9"/>
<circle cx="525.1" cy="277.8" r="2.9"/>
<circle cx="527.5" cy="277.5" r="2.9"/>
<circle cx="528.5" cy="275.7" r="2.9"/>
<circle cx="529.8" cy="274.5" r="2.9"/>
<circle cx="530.7" cy="274.8" r="2.9"/>
<circle cx="531.4" cy="276.5" r="2.9"/>
<circle cx="531.7" cy="276.9" r="2.9"/>
<circle cx="533.2" cy="277.3" r="2.9"/>
<circle cx="537.4" cy="280.5" r="2.9"/>
<circle cx="539.5" cy="280.1" r="2.9"/>
<circle cx="541.5" cy="281.8" r="2.9"/>
<circle cx="542.7" cy="282.1" r="2.9"/>
<circle cx="546.0" cy="283.6" r="2.9"/>
<circle cx="550.5" cy="282.3" r="2.9"/>
<circle cx="550.9" cy="281.0" r="2.9"/>
<circle cx="552.2" cy="280.7" r="2.9"/>
<circle cx="553.0" cy="278.4" r="2.9"/>
<circle cx="554.4" cy="278.3" r="2.9"/>
<circle cx="555.6" cy="277.3" r="2.9"/>
<circle cx="553.4" cy="277.3" r="2.9"/>
<circle cx="553.8" cy="276.5" r="2.9"/>
<circle cx="555.9" cy="278.7" r="2.9"/>
<circle cx="556.5" cy="277.8" r="2.9"/>
<circle cx="557.3" cy="277.6" r="2.9"/>
<circle cx="559.0" cy="277.8" r="2.9"/>
<circle cx="560.1" cy="277.3" r="2.9"/>
<circle cx="560.6" cy="280.2" r="2.9"/>
<circle cx="561.1" cy="285.1" r="2.9"/>
<circle cx="564.4" cy="288.7" r="2.9"/>
<circle cx="564.7" cy="289.8" r="2.9"/>
<circle cx="566.3" cy="289.5" r="2.9"/>
<circle cx="567.0" cy="289.7" r="2.9"/>
<circle cx="568.4" cy="292.2" r="2.9"/>
<circle cx="575.2" cy="295.5" r="2.9"/>
<circle cx="577.4" cy="296.9" r="2.9"/>
<circle cx="580.5" cy="298.1" r="2.9"/>
<circle cx="582.5" cy="299.4" r="2.9"/>
<circle cx="583.4" cy="300.1" r="2.9"/>
<circle cx="583.7" cy="300.3" r="2.9"/>
<circle cx="585.4" cy="300.6" r="2.9"/>
<circle cx="585.5" cy="301.3" r="2.9"/>
<circle cx="586.8" cy="302.6" r="2.9"/>
<circle cx="588.3" cy="302.9" r="2.9"/>
<circle cx="588.3" cy="305.0" r="2.9"/>
<circle cx="591.0" cy="305.0" r="2.9"/>
<circle cx="592.6" cy="305.7" r="2.9"/>
<circle cx="594.1" cy="308.1" r="2.9"/>
<circle cx="593.7" cy="310.9" r="2.9"/>
<circle cx="597.0" cy="314.9" r="2.9"/>
<circle cx="597.2" cy="315.8" r="2.9"/>
<circle cx="599.3" cy="315.4" r="2.9"/>
<circle cx="600.2" cy="316.9" r="2.9"/>
<circle cx="604.5" cy="321.9" r="2.9"/>
<circle cx="605.5" cy="321.6" r="2.9"/>
<circle cx="606.8" cy="323.9" r="2.9"/>
<circle cx="608.9" cy="326.2" r="2.9"/>
<circle cx="610.3" cy="328.9" r="2.9"/>
<circle cx="613.7" cy="331.3" r="2.9"/>
<circle cx="614.1" cy="331.3" r="2.9"/>
<circle cx="615.8" cy="332.4" r="2.9"/>
<circle cx="614.8" cy="335.2" r="2.9"/>
<circle cx="617.6" cy="336.3" r="2.9"/>
<circle cx="617.5" cy="337.2" r="2.9"/>
<circle cx="617.5" cy="338.0" r="2.9"/>
<circle cx="623.2" cy="337.4" r="2.9"/>
<circle cx="619.9" cy="338.1" r="2.9"/>
<circle cx="620.8" cy="339.7" r="2.9"/>
<circle cx="620.9" cy="340.7" r="2.9"/>
<circle cx="623.1" cy="342.4" r="2.9"/>
<circle cx="622.5" cy="343.9" r="2.9"/>
<circle cx="623.1" cy="345.2" r="2.9"/>
<circle cx="624.2" cy="348.7" r="2.9"/>
<circle cx="626.2" cy="350.8" r="2.9"/>
<circle cx="628.7" cy="352.7" r="2.9"/>
<circle cx="629.2" cy="353.4" r="2.9"/>
<circle cx="630.1" cy="356.2" r="2.9"/>
<circle cx="631.2" cy="356.2" r="2.9"/>
<circle cx="632.7" cy="360.0" r="2.9"/>
<circle cx="632.9" cy="359.7" r="2.9"/>
<circle cx="636.5" cy="362.0" r="2.9"/>
<circle cx="637.4" cy="363.6" r="2.9"/>
<circle cx="643.7" cy="362.4" r="2.9"/>
<circle cx="645.0" cy="362.2" r="2.9"/>
<circle cx="649.5" cy="357.9" r="2.9"/>
<circle cx="644.7" cy="358.6" r="2.9"/>
<circle cx="646.2" cy="358.5" r="2.9"/>
<circle cx="646.1" cy="360.0" r="2.9"/>
<circle cx="651.6" cy="359.9" r="2.9"/>
<circle cx="653.2" cy="359.8" r="2.9"/>
<circle cx="652.6" cy="358.8" r="2.9"/>
<circle cx="653.5" cy="358.1" r="2.9"/>
<circle cx="653.8" cy="356.7" r="2.9"/>
<circle cx="656.8" cy="356.4" r="2.9"/>
<circle cx="657.2" cy="356.1" r="2.9"/>
<circle cx="662.4" cy="354.6" r="2.9"/>
<circle cx="662.7" cy="354.0" r="2.9"/>
<circle cx="663.6" cy="353.8" r="2.9"/>
<circle cx="665.6" cy="352.4" r="2.9"/>
<circle cx="667.7" cy="351.1" r="2.9"/>
<circle cx="668.3" cy="350.8" r="2.9"/>
<circle cx="669.1" cy="350.1" r="2.9"/>
<circle cx="670.4" cy="348.6" r="2.9"/>
<circle cx="672.0" cy="347.1" r="2.9"/>
<circle cx="672.4" cy="346.7" r="2.9"/>
<circle cx="673.3" cy="345.8" r="2.9"/>
<circle cx="673.6" cy="345.2" r="2.9"/>
<circle cx="675.2" cy="342.8" r="2.9"/>
<circle cx="674.4" cy="340.9" r="2.9"/>
<circle cx="674.9" cy="340.7" r="2.9"/>
<circle cx="675.0" cy="338.4" r="2.9"/>
<circle cx="676.1" cy="333.8" r="2.9"/>
<circle cx="678.0" cy="332.6" r="2.9"/>
<circle cx="677.3" cy="330.5" r="2.9"/>
<circle cx="679.9" cy="329.9" r="2.9"/>
<circle cx="679.5" cy="327.8" r="2.9"/>
<circle cx="680.6" cy="326.3" r="2.9"/>
<circle cx="681.4" cy="325.9" r="2.9"/>
<circle cx="681.2" cy="326.1" r="2.9"/>
<circle cx="682.0" cy="324.6" r="2.9"/>
<circle cx="681.9" cy="323.9" r="2.9"/>
<circle cx="683.2" cy="323.5" r="2.9"/>
<circle cx="683.8" cy="323.2" r="2.9"/>
<circle cx="686.4" cy="321.3" r="2.9"/>
<circle cx="688.6" cy="320.5" r="2.9"/>
<circle cx="689.0" cy="319.2" r="2.9"/>
<circle cx="690.2" cy="319.0" r="2.9"/>
<circle cx="131.2" cy="346.7" r="2.9"/>
<circle cx="132.5" cy="348.0" r="2.9"/>
<circle cx="134.1" cy="348.4" r="2.9"/>
<circle cx="134.2" cy="352.4" r="2.9"/>
<circle cx="138.3" cy="360.0" r="2.9"/>
<circle cx="139.2" cy="360.4" r="2.9"/>
<circle cx="140.7" cy="360.9" r="2.9"/>
<circle cx="141.9" cy="361.6" r="2.9"/>
<circle cx="142.2" cy="362.7" r="2.9"/>
<circle cx="143.8" cy="364.0" r="2.9"/>
<circle cx="145.3" cy="366.0" r="2.9"/>
<circle cx="151.0" cy="369.1" r="2.9"/>
<circle cx="150.6" cy="371.1" r="2.9"/>
<circle cx="153.2" cy="373.2" r="2.9"/>
<circle cx="153.8" cy="373.8" r="2.9"/>
<circle cx="155.1" cy="375.3" r="2.9"/>
<circle cx="156.5" cy="381.1" r="2.9"/>
<circle cx="158.1" cy="382.0" r="2.9"/>
<circle cx="163.4" cy="387.7" r="2.9"/>
<circle cx="164.9" cy="388.4" r="2.9"/>
<circle cx="165.8" cy="389.9" r="2.9"/>
<circle cx="167.0" cy="389.8" r="2.9"/>
<circle cx="170.8" cy="388.4" r="2.9"/>
<circle cx="171.0" cy="388.8" r="2.9"/>
<circle cx="172.4" cy="388.6" r="2.9"/>
<circle cx="172.8" cy="387.7" r="2.9"/>
<circle cx="177.2" cy="386.0" r="2.9"/>
<circle cx="178.6" cy="386.4" r="2.9"/>
<circle cx="179.1" cy="386.9" r="2.9"/>
<circle cx="179.4" cy="385.9" r="2.9"/>
<circle cx="180.1" cy="385.4" r="2.9"/>
<circle cx="181.4" cy="385.7" r="2.9"/>
<circle cx="182.8" cy="385.0" r="2.9"/>
<circle cx="186.0" cy="382.3" r="2.9"/>
<circle cx="186.6" cy="381.5" r="2.9"/>
<circle cx="190.9" cy="380.4" r="2.9"/>
<circle cx="192.1" cy="379.6" r="2.9"/>
<circle cx="192.9" cy="377.2" r="2.9"/>
<circle cx="196.1" cy="376.8" r="2.9"/>
<circle cx="199.7" cy="376.0" r="2.9"/>
<circle cx="200.2" cy="374.5" r="2.9"/>
<circle cx="201.8" cy="373.4" r="2.9"/>
<circle cx="201.1" cy="370.9" r="2.9"/>
<circle cx="203.9" cy="364.6" r="2.9"/>
<circle cx="205.3" cy="363.2" r="2.9"/>
<circle cx="206.3" cy="362.0" r="2.9"/>
<circle cx="206.4" cy="360.3" r="2.9"/>
<circle cx="208.4" cy="358.9" r="2.9"/>
<circle cx="209.6" cy="355.5" r="2.9"/>
<circle cx="210.6" cy="354.8" r="2.9"/>
<circle cx="212.9" cy="352.3" r="2.9"/>
<circle cx="213.5" cy="351.7" r="2.9"/>
<circle cx="215.6" cy="347.9" r="2.9"/>
<circle cx="219.0" cy="345.6" r="2.9"/>
<circle cx="220.9" cy="345.1" r="2.9"/>
<circle cx="221.4" cy="342.5" r="2.9"/>
<circle cx="224.9" cy="342.1" r="2.9"/>
<circle cx="227.9" cy="340.3" r="2.9"/>
<circle cx="228.7" cy="337.2" r="2.9"/>
<circle cx="231.2" cy="336.6" r="2.9"/>
<circle cx="234.0" cy="335.1" r="2.9"/>
<circle cx="234.5" cy="334.6" r="2.9"/>
<circle cx="235.9" cy="330.9" r="2.9"/>
<circle cx="237.5" cy="328.9" r="2.9"/>
<circle cx="239.8" cy="328.9" r="2.9"/>
<circle cx="240.1" cy="326.9" r="2.9"/>
<circle cx="241.8" cy="325.9" r="2.9"/>
<circle cx="243.7" cy="323.9" r="2.9"/>
<circle cx="243.3" cy="323.3" r="2.9"/>
<circle cx="246.0" cy="321.9" r="2.9"/>
<circle cx="245.8" cy="319.8" r="2.9"/>
<circle cx="247.4" cy="318.7" r="2.9"/>
<circle cx="249.5" cy="318.3" r="2.9"/>
<circle cx="254.5" cy="318.4" r="2.9"/>
<circle cx="256.7" cy="317.7" r="2.9"/>
<circle cx="261.0" cy="318.0" r="2.9"/>
<circle cx="262.4" cy="315.4" r="2.9"/>
<circle cx="268.0" cy="312.5" r="2.9"/>
<circle cx="268.1" cy="312.9" r="2.9"/>
<circle cx="272.2" cy="315.2" r="2.9"/>
<circle cx="272.4" cy="315.5" r="2.9"/>
<circle cx="272.9" cy="313.1" r="2.9"/>
<circle cx="276.7" cy="312.4" r="2.9"/>
<circle cx="279.8" cy="310.6" r="2.9"/>
<circle cx="280.4" cy="311.1" r="2.9"/>
<circle cx="281.0" cy="308.6" r="2.9"/>
<circle cx="285.8" cy="308.8" r="2.9"/>
<circle cx="288.0" cy="307.6" r="2.9"/>
<circle cx="292.5" cy="306.6" r="2.9"/>
<circle cx="293.8" cy="306.2" r="2.9"/>
<circle cx="294.8" cy="307.1" r="2.9"/>
<circle cx="298.8" cy="307.8" r="2.9"/>
<circle cx="303.4" cy="308.3" r="2.9"/>
<circle cx="304.6" cy="307.2" r="2.9"/>
<circle cx="306.2" cy="307.7" r="2.9"/>
<circle cx="306.8" cy="307.6" r="2.9"/>
<circle cx="310.7" cy="306.7" r="2.9"/>
<circle cx="314.4" cy="306.5" r="2.9"/>
<circle cx="314.8" cy="307.7" r="2.9"/>
<circle cx="316.1" cy="306.4" r="2.9"/>
<circle cx="317.1" cy="307.2" r="2.9"/>
<circle cx="321.4" cy="308.0" r="2.9"/>
<circle cx="321.8" cy="309.4" r="2.9"/>
<circle cx="323.2" cy="309.2" r="2.9"/>
<circle cx="326.1" cy="309.7" r="2.9"/>
<circle cx="326.2" cy="309.4" r="2.9"/>
<circle cx="328.1" cy="310.3" r="2.9"/>
<circle cx="329.2" cy="310.6" r="2.9"/>
<circle cx="330.6" cy="310.2" r="2.9"/>
<circle cx="335.3" cy="313.2" r="2.9"/>
<circle cx="338.9" cy="316.6" r="2.9"/>
<circle cx="339.1" cy="317.1" r="2.9"/>
<circle cx="338.8" cy="318.7" r="2.9"/>
<circle cx="337.9" cy="319.8" r="2.9"/>
<circle cx="340.5" cy="321.0" r="2.9"/>
<circle cx="339.1" cy="322.0" r="2.9"/>
<circle cx="339.6" cy="323.5" r="2.9"/>
<circle cx="340.7" cy="323.5" r="2.9"/>
<circle cx="344.3" cy="325.1" r="2.9"/>
<circle cx="344.8" cy="325.6" r="2.9"/>
<circle cx="346.1" cy="326.6" r="2.9"/>
<circle cx="345.7" cy="328.3" r="2.9"/>
<circle cx="347.7" cy="330.0" r="2.9"/>
<circle cx="349.9" cy="331.0" r="2.9"/>
<circle cx="352.0" cy="332.4" r="2.9"/>
<circle cx="353.6" cy="335.4" r="2.9"/>
<circle cx="355.0" cy="334.7" r="2.9"/>
<circle cx="355.9" cy="337.3" r="2.9"/>
<circle cx="357.6" cy="336.7" r="2.9"/>
<circle cx="358.5" cy="338.5" r="2.9"/>
<circle cx="359.9" cy="338.1" r="2.9"/>
<circle cx="360.4" cy="338.6" r="2.9"/>
<circle cx="360.9" cy="339.3" r="2.9"/>
<circle cx="365.6" cy="343.4" r="2.9"/>
<circle cx="367.4" cy="343.3" r="2.9"/>
<circle cx="368.3" cy="343.5" r="2.9"/>
<circle cx="370.4" cy="346.0" r="2.9"/>
<circle cx="373.6" cy="349.5" r="2.9"/>
<circle cx="373.4" cy="351.0" r="2.9"/>
<circle cx="374.1" cy="352.0" r="2.9"/>
<circle cx="374.2" cy="353.7" r="2.9"/>
<circle cx="375.7" cy="355.6" r="2.9"/>
<circle cx="374.4" cy="358.3" r="2.9"/>
<circle cx="375.1" cy="358.2" r="2.9"/>
<circle cx="376.0" cy="358.2" r="2.9"/>
<circle cx="376.3" cy="359.0" r="2.9"/>
<circle cx="376.3" cy="360.8" r="2.9"/>
<circle cx="379.7" cy="363.1" r="2.9"/>
<circle cx="379.5" cy="364.0" r="2.9"/>
<circle cx="380.8" cy="366.1" r="2.9"/>
<circle cx="381.3" cy="367.5" r="2.9"/>
<circle cx="383.3" cy="367.2" r="2.9"/>
<circle cx="386.1" cy="373.7" r="2.9"/>
<circle cx="385.6" cy="374.7" r="2.9"/>
<circle cx="386.6" cy="375.9" r="2.9"/>
<circle cx="387.1" cy="380.5" r="2.9"/>
<circle cx="387.9" cy="381.4" r="2.9"/>
<circle cx="386.5" cy="380.1" r="2.9"/>
<circle cx="388.1" cy="381.2" r="2.9"/>
<circle cx="389.1" cy="382.4" r="2.9"/>
<circle cx="389.7" cy="383.2" r="2.9"/>
<circle cx="389.4" cy="384.2" r="2.9"/>
<circle cx="392.6" cy="386.5" r="2.9"/>
<circle cx="393.6" cy="387.5" r="2.9"/>
<circle cx="397.9" cy="389.0" r="2.9"/>
<circle cx="400.5" cy="389.5" r="2.9"/>
<circle cx="401.4" cy="389.1" r="2.9"/>
<circle cx="401.7" cy="390.5" r="2.9"/>
<circle cx="403.6" cy="391.1" r="2.9"/>
<circle cx="404.7" cy="390.9" r="2.9"/>
<circle cx="405.6" cy="392.0" r="2.9"/>
<circle cx="408.3" cy="393.3" r="2.9"/>
<circle cx="409.9" cy="392.7" r="2.9"/>
<circle cx="416.7" cy="397.0" r="2.9"/>
<circle cx="414.6" cy="396.2" r="2.9"/>
<circle cx="418.4" cy="394.7" r="2.9"/>
<circle cx="419.3" cy="392.3" r="2.9"/>
<circle cx="423.4" cy="390.5" r="2.9"/>
<circle cx="427.5" cy="389.8" r="2.9"/>
<circle cx="428.6" cy="389.1" r="2.9"/>
<circle cx="429.1" cy="388.3" r="2.9"/>
<circle cx="432.8" cy="387.3" r="2.9"/>
<circle cx="434.1" cy="386.0" r="2.9"/>
<circle cx="434.2" cy="385.4" r="2.9"/>
<circle cx="434.6" cy="382.0" r="2.9"/>
<circle cx="434.8" cy="381.7" r="2.9"/>
<circle cx="436.1" cy="379.5" r="2.9"/>
<circle cx="437.8" cy="379.4" r="2.9"/>
<circle cx="438.6" cy="376.0" r="2.9"/>
<circle cx="440.0" cy="376.4" r="2.9"/>
<circle cx="439.6" cy="374.1" r="2.9"/>
<circle cx="440.0" cy="372.2" r="2.9"/>
<circle cx="445.4" cy="366.4" r="2.9"/>
<circle cx="445.7" cy="365.1" r="2.9"/>
<circle cx="445.8" cy="364.6" r="2.9"/>
<circle cx="448.8" cy="361.8" r="2.9"/>
<circle cx="450.5" cy="357.8" r="2.9"/>
<circle cx="453.2" cy="354.4" r="2.9"/>
<circle cx="453.6" cy="353.9" r="2.9"/>
<circle cx="453.4" cy="352.6" r="2.9"/>
<circle cx="454.0" cy="349.5" r="2.9"/>
<circle cx="457.5" cy="346.1" r="2.9"/>
<circle cx="458.2" cy="345.8" r="2.9"/>
<circle cx="458.9" cy="345.2" r="2.9"/>
<circle cx="459.8" cy="344.0" r="2.9"/>
<circle cx="464.2" cy="339.1" r="2.9"/>
<circle cx="463.8" cy="338.5" r="2.9"/>
<circle cx="465.5" cy="337.8" r="2.9"/>
<circle cx="466.6" cy="336.8" r="2.9"/>
<circle cx="467.7" cy="334.4" r="2.9"/>
<circle cx="471.3" cy="331.0" r="2.9"/>
<circle cx="474.1" cy="329.6" r="2.9"/>
<circle cx="476.7" cy="328.4" r="2.9"/>
<circle cx="476.4" cy="327.1" r="2.9"/>
<circle cx="484.9" cy="320.1" r="2.9"/>
<circle cx="483.5" cy="320.9" r="2.9"/>
<circle cx="487.0" cy="317.3" r="2.9"/>
<circle cx="488.7" cy="314.7" r="2.9"/>
<circle cx="490.3" cy="315.7" r="2.9"/>
<circle cx="491.2" cy="312.9" r="2.9"/>
<circle cx="492.7" cy="311.7" r="2.9"/>
<circle cx="500.2" cy="309.6" r="2.9"/>
<circle cx="501.3" cy="309.8" r="2.9"/>
<circle cx="506.4" cy="312.8" r="2.9"/>
<circle cx="509.2" cy="314.6" r="2.9"/>
<circle cx="510.0" cy="314.1" r="2.9"/>
<circle cx="511.5" cy="315.2" r="2.9"/>
<circle cx="511.9" cy="315.2" r="2.9"/>
<circle cx="515.6" cy="312.4" r="2.9"/>
<circle cx="517.6" cy="313.3" r="2.9"/>
<circle cx="519.1" cy="312.6" r="2.9"/>
<circle cx="520.6" cy="310.3" r="2.9"/>
<circle cx="521.3" cy="309.7" r="2.9"/>
<circle cx="522.7" cy="308.8" r="2.9"/>
<circle cx="529.1" cy="306.1" r="2.9"/>
<circle cx="529.9" cy="306.5" r="2.9"/>
<circle cx="531.5" cy="306.0" r="2.9"/>
<circle cx="532.8" cy="306.7" r="2.9"/>
<circle cx="532.6" cy="308.7" r="2.9"/>
<circle cx="537.7" cy="308.9" r="2.9"/>
<circle cx="539.6" cy="311.7" r="2.9"/>
<circle cx="540.3" cy="312.8" r="2.9"/>
<circle cx="542.4" cy="311.9" r="2.9"/>
<circle cx="543.4" cy="313.2" r="2.9"/>
<circle cx="545.1" cy="314.1" r="2.9"/>
<circle cx="544.8" cy="314.3" r="2.9"/>
<circle cx="547.1" cy="314.7" r="2.9"/>
<circle cx="548.0" cy="314.7" r="2.9"/>
<circle cx="550.8" cy="313.0" r="2.9"/>
<circle cx="551.7" cy="313.1" r="2.9"/>
<circle cx="557.7" cy="313.9" r="2.9"/>
<circle cx="560.3" cy="314.6" r="2.9"/>
<circle cx="562.0" cy="315.9" r="2.9"/>
<circle cx="567.5" cy="319.9" r="2.9"/>
<circle cx="565.5" cy="320.1" r="2.9"/>
<circle cx="565.9" cy="319.9" r="2.9"/>
<circle cx="566.4" cy="318.8" r="2.9"/>
<circle cx="567.1" cy="317.3" r="2.9"/>
<circle cx="569.0" cy="316.7" r="2.9"/>
<circle cx="574.6" cy="320.2" r="2.9"/>
<circle cx="573.4" cy="322.7" r="2.9"/>
<circle cx="575.5" cy="326.2" r="2.9"/>
<circle cx="573.1" cy="325.0" r="2.9"/>
<circle cx="573.5" cy="324.9" r="2.9"/>
<circle cx="578.8" cy="324.8" r="2.9"/>
<circle cx="575.6" cy="326.7" r="2.9"/>
<circle cx="575.4" cy="325.5" r="2.9"/>
<circle cx="576.2" cy="323.8" r="2.9"/>
<circle cx="583.6" cy="325.2" r="2.9"/>
<circle cx="583.6" cy="328.5" r="2.9"/>
<circle cx="584.1" cy="331.3" r="2.9"/>
<circle cx="586.0" cy="332.1" r="2.9"/>
<circle cx="590.8" cy="333.5" r="2.9"/>
<circle cx="586.7" cy="336.4" r="2.9"/>
<circle cx="587.0" cy="337.4" r="2.9"/>
<circle cx="590.3" cy="340.4" r="2.9"/>
<circle cx="596.6" cy="346.6" r="2.9"/>
<circle cx="596.2" cy="348.2" r="2.9"/>
<circle cx="597.0" cy="349.1" r="2.9"/>
<circle cx="597.2" cy="350.1" r="2.9"/>
<circle cx="592.7" cy="349.6" r="2.9"/>
<circle cx="592.9" cy="348.7" r="2.9"/>
<circle cx="600.3" cy="343.4" r="2.9"/>
<circle cx="601.1" cy="345.1" r="2.9"/>
<circle cx="602.1" cy="346.1" r="2.9"/>
<circle cx="602.4" cy="346.7" r="2.9"/>
<circle cx="603.2" cy="347.1" r="2.9"/>
<circle cx="604.7" cy="350.7" r="2.9"/>
<circle cx="603.9" cy="352.5" r="2.9"/>
<circle cx="605.3" cy="353.8" r="2.9"/>
<circle cx="606.1" cy="354.5" r="2.9"/>
<circle cx="607.5" cy="355.2" r="2.9"/>
<circle cx="607.2" cy="358.1" r="2.9"/>
<circle cx="610.7" cy="360.7" r="2.9"/>
<circle cx="611.4" cy="362.0" r="2.9"/>
<circle cx="613.6" cy="363.3" r="2.9"/>
<circle cx="614.7" cy="363.5" r="2.9"/>
<circle cx="618.5" cy="366.6" r="2.9"/>
<circle cx="619.9" cy="369.1" r="2.9"/>
<circle cx="621.6" cy="372.7" r="2.9"/>
<circle cx="622.6" cy="373.8" r="2.9"/>
<circle cx="623.2" cy="374.5" r="2.9"/>
<circle cx="626.5" cy="378.2" r="2.9"/>
<circle cx="627.3" cy="381.3" r="2.9"/>
<circle cx="628.5" cy="382.2" r="2.9"/>
<circle cx="628.7" cy="383.0" r="2.9"/>
<circle cx="629.6" cy="384.4" r="2.9"/>
<circle cx="630.4" cy="385.6" r="2.9"/>
<circle cx="631.7" cy="386.7" r="2.9"/>
<circle cx="632.5" cy="387.8" r="2.9"/>
<circle cx="636.7" cy="389.7" r="2.9"/>
<circle cx="636.9" cy="388.9" r="2.9"/>
<circle cx="638.6" cy="390.2" r="2.9"/>
<circle cx="639.7" cy="388.8" r="2.9"/>
<circle cx="642.1" cy="387.7" r="2.9"/>
<circle cx="644.0" cy="387.4" r="2.9"/>
<circle cx="648.1" cy="386.7" r="2.9"/>
<circle cx="649.8" cy="386.0" r="2.9"/>
<circle cx="650.0" cy="385.9" r="2.9"/>
<circle cx="655.8" cy="382.0" r="2.9"/>
<circle cx="657.0" cy="382.8" r="2.9"/>
<circle cx="657.6" cy="380.8" r="2.9"/>
<circle cx="658.6" cy="381.1" r="2.9"/>
<circle cx="660.1" cy="379.2" r="2.9"/>
<circle cx="664.2" cy="377.3" r="2.9"/>
<circle cx="665.6" cy="377.1" r="2.9"/>
<circle cx="667.8" cy="375.9" r="2.9"/>
<circle cx="668.4" cy="375.8" r="2.9"/>
<circle cx="669.2" cy="374.6" r="2.9"/>
<circle cx="670.7" cy="376.0" r="2.9"/>
<circle cx="669.4" cy="374.9" r="2.9"/>
<circle cx="669.6" cy="374.2" r="2.9"/>
<circle cx="671.7" cy="373.1" r="2.9"/>
<circle cx="672.4" cy="369.3" r="2.9"/>
<circle cx="672.8" cy="367.3" r="2.9"/>
<circle cx="673.0" cy="366.5" r="2.9"/>
<circle cx="673.9" cy="366.6" r="2.9"/>
<circle cx="676.0" cy="361.1" r="2.9"/>
<circle cx="678.8" cy="357.9" r="2.9"/>
<circle cx="680.5" cy="355.7" r="2.9"/>
<circle cx="680.4" cy="354.0" r="2.9"/>
<circle cx="682.9" cy="352.7" r="2.9"/>
<circle cx="683.8" cy="351.5" r="2.9"/>
<circle cx="685.1" cy="351.3" r="2.9"/>
<circle cx="684.4" cy="349.4" r="2.9"/>
<circle cx="684.5" cy="348.9" r="2.9"/>
<circle cx="686.1" cy="348.7" r="2.9"/>
<circle cx="687.7" cy="347.8" r="2.9"/>
<circle cx="687.3" cy="346.2" r="2.9"/>
<circle cx="689.4" cy="344.1" r="2.9"/>
<circle cx="136.0" cy="317.3" r="2.9"/>
<circle cx="138.2" cy="318.7" r="2.9"/>
<circle cx="144.6" cy="327.2" r="2.9"/>
<circle cx="148.3" cy="330.3" r="2.9"/>
<circle cx="156.3" cy="341.8" r="2.9"/>
<circle cx="157.2" cy="344.3" r="2.9"/>
<circle cx="174.0" cy="358.2" r="2.9"/>
<circle cx="183.3" cy="353.4" r="2.9"/>
<circle cx="223.8" cy="310.8" r="2.9"/>
<circle cx="228.4" cy="307.0" r="2.9"/>
<circle cx="232.9" cy="300.4" r="2.9"/>
<circle cx="253.5" cy="286.1" r="2.9"/>
<circle cx="259.7" cy="284.3" r="2.9"/>
<circle cx="277.7" cy="271.8" r="2.9"/>
<circle cx="286.4" cy="270.2" r="2.9"/>
<circle cx="290.0" cy="275.5" r="2.9"/>
<circle cx="300.9" cy="275.5" r="2.9"/>
<circle cx="302.1" cy="273.8" r="2.9"/>
<circle cx="314.8" cy="271.4" r="2.9"/>
<circle cx="314.8" cy="273.5" r="2.9"/>
<circle cx="349.9" cy="297.5" r="2.9"/>
<circle cx="353.3" cy="299.7" r="2.9"/>
<circle cx="370.7" cy="319.4" r="2.9"/>
<circle cx="381.3" cy="337.8" r="2.9"/>
<circle cx="383.9" cy="341.3" r="2.9"/>
<circle cx="388.8" cy="349.2" r="2.9"/>
<circle cx="400.3" cy="356.1" r="2.9"/>
<circle cx="406.9" cy="361.2" r="2.9"/>
<circle cx="416.9" cy="362.5" r="2.9"/>
<circle cx="421.9" cy="362.7" r="2.9"/>
<circle cx="432.4" cy="341.6" r="2.9"/>
<circle cx="437.4" cy="339.4" r="2.9"/>
<circle cx="445.7" cy="332.7" r="2.9"/>
<circle cx="446.8" cy="325.6" r="2.9"/>
<circle cx="466.6" cy="300.4" r="2.9"/>
<circle cx="480.7" cy="294.1" r="2.9"/>
<circle cx="484.7" cy="286.4" r="2.9"/>
<circle cx="511.2" cy="278.7" r="2.9"/>
<circle cx="556.4" cy="273.1" r="2.9"/>
<circle cx="568.9" cy="287.6" r="2.9"/>
<circle cx="575.7" cy="291.4" r="2.9"/>
<circle cx="583.4" cy="296.1" r="2.9"/>
<circle cx="585.7" cy="297.3" r="2.9"/>
<circle cx="587.5" cy="296.9" r="2.9"/>
<circle cx="598.0" cy="309.8" r="2.9"/>
<circle cx="620.1" cy="334.8" r="2.9"/>
<circle cx="622.0" cy="335.5" r="2.9"/>
<circle cx="650.4" cy="354.3" r="2.9"/>
<circle cx="673.0" cy="334.9" r="2.9"/>
<circle cx="674.7" cy="328.1" r="2.9"/>
<circle cx="131.3" cy="353.7" r="2.9"/>
<circle cx="132.9" cy="355.5" r="2.9"/>
<circle cx="136.8" cy="363.6" r="2.9"/>
<circle cx="154.6" cy="385.3" r="2.9"/>
<circle cx="165.2" cy="392.2" r="2.9"/>
<circle cx="184.8" cy="386.8" r="2.9"/>
<circle cx="188.4" cy="387.5" r="2.9"/>
<circle cx="195.0" cy="381.9" r="2.9"/>
<circle cx="212.3" cy="361.4" r="2.9"/>
<circle cx="220.5" cy="351.8" r="2.9"/>
<circle cx="240.7" cy="333.3" r="2.9"/>
<circle cx="245.6" cy="328.7" r="2.9"/>
<circle cx="262.3" cy="323.0" r="2.9"/>
<circle cx="267.1" cy="317.1" r="2.9"/>
<circle cx="267.7" cy="316.8" r="2.9"/>
<circle cx="268.4" cy="318.7" r="2.9"/>
<circle cx="277.3" cy="316.3" r="2.9"/>
<circle cx="285.0" cy="313.5" r="2.9"/>
<circle cx="317.3" cy="310.6" r="2.9"/>
<circle cx="333.1" cy="318.7" r="2.9"/>
<circle cx="334.8" cy="321.0" r="2.9"/>
<circle cx="357.1" cy="341.3" r="2.9"/>
<circle cx="361.8" cy="344.8" r="2.9"/>
<circle cx="371.5" cy="360.4" r="2.9"/>
<circle cx="377.1" cy="366.6" r="2.9"/>
<circle cx="381.1" cy="375.6" r="2.9"/>
<circle cx="384.8" cy="383.2" r="2.9"/>
<circle cx="392.9" cy="391.5" r="2.9"/>
<circle cx="402.8" cy="393.6" r="2.9"/>
<circle cx="409.1" cy="397.7" r="2.9"/>
<circle cx="416.7" cy="400.4" r="2.9"/>
<circle cx="429.9" cy="392.6" r="2.9"/>
<circle cx="443.2" cy="376.6" r="2.9"/>
<circle cx="460.2" cy="350.2" r="2.9"/>
<circle cx="464.4" cy="346.2" r="2.9"/>
<circle cx="465.4" cy="344.7" r="2.9"/>
<circle cx="475.7" cy="332.7" r="2.9"/>
<circle cx="481.2" cy="326.5" r="2.9"/>
<circle cx="499.5" cy="314.0" r="2.9"/>
<circle cx="514.0" cy="319.4" r="2.9"/>
<circle cx="528.9" cy="310.5" r="2.9"/>
<circle cx="534.2" cy="311.9" r="2.9"/>
<circle cx="543.1" cy="317.5" r="2.9"/>
<circle cx="571.9" cy="327.8" r="2.9"/>
<circle cx="581.1" cy="332.2" r="2.9"/>
<circle cx="602.5" cy="356.1" r="2.9"/>
<circle cx="603.1" cy="357.2" r="2.9"/>
<circle cx="626.5" cy="387.2" r="2.9"/>
<circle cx="652.3" cy="390.0" r="2.9"/>
<circle cx="656.8" cy="387.4" r="2.9"/>
<circle cx="657.4" cy="387.7" r="2.9"/>
<circle cx="665.3" cy="382.3" r="2.9"/>
<circle cx="665.6" cy="381.6" r="2.9"/>
<circle cx="687.3" cy="354.8" r="2.9"/>
<circle cx="688.3" cy="353.5" r="2.9"/>
<circle cx="689.4" cy="352.5" r="2.9"/>
<circle cx="128.1" cy="313.2" r="2.9"/>
<circle cx="128.4" cy="315.4" r="2.9"/>
<circle cx="128.8" cy="318.6" r="2.9"/>
<circle cx="128.5" cy="322.4" r="2.9"/>
<circle cx="128.6" cy="325.2" r="2.9"/>
<circle cx="128.4" cy="327.8" r="2.9"/>
<circle cx="128.6" cy="330.1" r="2.9"/>
<circle cx="128.5" cy="334.7" r="2.9"/>
<circle cx="128.4" cy="337.0" r="2.9"/>
<circle cx="128.6" cy="340.6" r="2.9"/>
<circle cx="128.3" cy="343.2" r="2.9"/>
<circle cx="692.5" cy="317.2" r="2.9"/>
<circle cx="692.1" cy="321.0" r="2.9"/>
<circle cx="692.2" cy="323.3" r="2.9"/>
<circle cx="691.9" cy="326.4" r="2.9"/>
<circle cx="692.3" cy="329.8" r="2.9"/>
<circle cx="692.1" cy="331.0" r="2.9"/>
<circle cx="692.2" cy="334.9" r="2.9"/>
<circle cx="692.4" cy="337.6" r="2.9"/>
<circle cx="692.5" cy="341.7" r="2.9"/>
</g>
<rect x="100.5" y="60.5" width="620" height="385" fill="none" stroke="#000" stroke-width="1.1"/>
<g class="t">
<line x1="128.41" y1="445.5" x2="128.41" y2="450.4" stroke="#000" stroke-width="1.1"/>
<text transform="translate(133.61,465.8) scale(1.144,1)" font-size="13.9" text-anchor="middle">0.6</text>
<rect x="113.11" y="460.8" width="8.7" height="1.25" fill="#000"/>
<line x1="222.39" y1="445.5" x2="222.39" y2="450.4" stroke="#000" stroke-width="1.1"/>
<text transform="translate(227.59,465.8) scale(1.144,1)" font-size="13.9" text-anchor="middle">0.4</text>
<rect x="207.09" y="460.8" width="8.7" height="1.25" fill="#000"/>
<line x1="316.37" y1="445.5" x2="316.37" y2="450.4" stroke="#000" stroke-width="1.1"/>
<text transform="translate(321.57,465.8) scale(1.144,1)" font-size="13.9" text-anchor="middle">0.2</text>
<rect x="301.07" y="460.8" width="8.7" height="1.25" fill="#000"/>
<line x1="410.35" y1="445.5" x2="410.35" y2="450.4" stroke="#000" stroke-width="1.1"/>
<text transform="translate(410.35,465.8) scale(1.144,1)" font-size="13.9" text-anchor="middle">0.0</text>
<line x1="504.33" y1="445.5" x2="504.33" y2="450.4" stroke="#000" stroke-width="1.1"/>
<text transform="translate(504.33,465.8) scale(1.144,1)" font-size="13.9" text-anchor="middle">0.2</text>
<line x1="598.31" y1="445.5" x2="598.31" y2="450.4" stroke="#000" stroke-width="1.1"/>
<text transform="translate(598.31,465.8) scale(1.144,1)" font-size="13.9" text-anchor="middle">0.4</text>
<line x1="692.29" y1="445.5" x2="692.29" y2="450.4" stroke="#000" stroke-width="1.1"/>
<text transform="translate(692.29,465.8) scale(1.144,1)" font-size="13.9" text-anchor="middle">0.6</text>
<line x1="95.6" y1="427.40" x2="100.5" y2="427.40" stroke="#000" stroke-width="1.1"/>
<text transform="translate(90.6,432.30) scale(1.144,1)" font-size="13.9" text-anchor="end">0.50</text>
<line x1="95.6" y1="377.12" x2="100.5" y2="377.12" stroke="#000" stroke-width="1.1"/>
<text transform="translate(90.6,382.02) scale(1.144,1)" font-size="13.9" text-anchor="end">0.75</text>
<line x1="95.6" y1="326.85" x2="100.5" y2="326.85" stroke="#000" stroke-width="1.1"/>
<text transform="translate(90.6,331.75) scale(1.144,1)" font-size="13.9" text-anchor="end">1.00</text>
<line x1="95.6" y1="276.57" x2="100.5" y2="276.57" stroke="#000" stroke-width="1.1"/>
<text transform="translate(90.6,281.47) scale(1.144,1)" font-size="13.9" text-anchor="end">1.25</text>
<line x1="95.6" y1="226.30" x2="100.5" y2="226.30" stroke="#000" stroke-width="1.1"/>
<text transform="translate(90.6,231.20) scale(1.144,1)" font-size="13.9" text-anchor="end">1.50</text>
<line x1="95.6" y1="176.02" x2="100.5" y2="176.02" stroke="#000" stroke-width="1.1"/>
<text transform="translate(90.6,180.92) scale(1.144,1)" font-size="13.9" text-anchor="end">1.75</text>
<line x1="95.6" y1="125.75" x2="100.5" y2="125.75" stroke="#000" stroke-width="1.1"/>
<text transform="translate(90.6,130.65) scale(1.144,1)" font-size="13.9" text-anchor="end">2.00</text>
<line x1="95.6" y1="75.47" x2="100.5" y2="75.47" stroke="#000" stroke-width="1.1"/>
<text transform="translate(90.6,80.37) scale(1.144,1)" font-size="13.9" text-anchor="end">2.25</text>
<text transform="translate(409.85,51.5) scale(1.1256,1)" font-size="16.7" text-anchor="middle">TIC 0279481568, period 0.3165 days</text>
<text transform="translate(410.3,484.7) scale(1.05,1)" font-size="13.9" text-anchor="middle">Phase</text>
<text transform="translate(50.4,253.3) rotate(-90) scale(1.11,1)" x="0" y="0" font-size="13.9" text-anchor="middle">Normalized PDC flux</text>
</g>
</svg></body></html>
